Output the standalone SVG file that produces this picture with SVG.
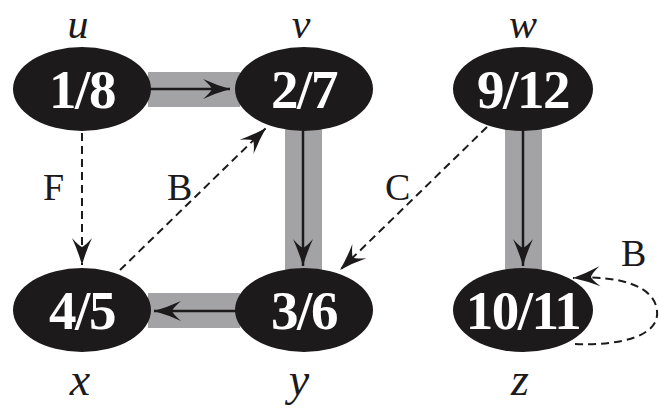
<svg xmlns="http://www.w3.org/2000/svg" width="659" height="412" viewBox="0 0 659 412">
<style>
.band{fill:#a3a3a5}
.node ellipse{fill:#1c1a1b}
.num{font-family:"Liberation Serif","Times New Roman",serif;font-weight:bold;font-size:55px;fill:#fff;text-anchor:middle;letter-spacing:-1.5px}
.name{font-family:"Liberation Serif","Times New Roman",serif;font-style:italic;font-size:46px;fill:#1c1a1b;text-anchor:middle}
.top{font-size:42px}
.lab{font-family:"Liberation Serif","Times New Roman",serif;font-size:38px;fill:#1c1a1b}
.tree{stroke:#1c1a1b;stroke-width:2.5;fill:none}
.dash{stroke:#1c1a1b;stroke-width:2;fill:none;stroke-dasharray:8 5}
</style>
<defs>
<marker id="ah" markerUnits="userSpaceOnUse" viewBox="-30 -12 32 24" refX="0" refY="0" markerWidth="32" markerHeight="24" orient="auto">
<path d="M0,0 Q-14,-4 -27,-10 Q-19,-3 -18,0 Q-19,3 -27,10 Q-14,4 0,0 Z" fill="#1c1a1b"/>
</marker>
</defs>
<g id="bands">
<rect class="band" x="148" y="72" width="92" height="35"/>
<rect class="band" x="285" y="126" width="37" height="146"/>
<rect class="band" x="505" y="126" width="37" height="146"/>
<rect class="band" x="148" y="293" width="92" height="35"/>
</g>
<g id="connectors">
<line class="tree" x1="150" y1="89" x2="230" y2="89" marker-end="url(#ah)"/>
<line class="tree" x1="303" y1="130" x2="303" y2="266" marker-end="url(#ah)"/>
<line class="tree" x1="523" y1="130" x2="523" y2="266" marker-end="url(#ah)"/>
<line class="tree" x1="238" y1="311" x2="154" y2="311" marker-end="url(#ah)"/>
<line class="dash" x1="82" y1="133" x2="82" y2="265" marker-end="url(#ah)"/>
<line class="dash" x1="120" y1="270" x2="266" y2="128" marker-end="url(#ah)"/>
<line class="dash" x1="487" y1="127" x2="340" y2="270" marker-end="url(#ah)"/>
<path class="dash" d="M575,344 C620,346 660,336 657,311 C655,287 622,275 573,278" marker-end="url(#ah)"/>
<text class="lab" x="43" y="200">F</text>
<text class="lab" x="167" y="200">B</text>
<text class="lab" x="385" y="200">C</text>
<text class="lab" x="621" y="266">B</text>
</g>
<g id="node-u" class="node">
<ellipse cx="82" cy="89" rx="69" ry="42"/>
<text class="num" x="82" y="108">1/8</text>
<text class="name top" x="78" y="38">u</text>
</g>
<g id="node-v" class="node">
<ellipse cx="304" cy="89" rx="69" ry="42"/>
<text class="num" x="304" y="108">2/7</text>
<text class="name top" x="301" y="38">v</text>
</g>
<g id="node-w" class="node">
<ellipse cx="523" cy="89" rx="70" ry="42"/>
<text class="num" x="523" y="108">9/12</text>
<text class="name top" x="523" y="38">w</text>
</g>
<g id="node-x" class="node">
<ellipse cx="82" cy="310" rx="69" ry="42"/>
<text class="num" x="82" y="329">4/5</text>
<text class="name" x="80" y="395">x</text>
</g>
<g id="node-y" class="node">
<ellipse cx="304" cy="310" rx="69" ry="42"/>
<text class="num" x="304" y="329">3/6</text>
<text class="name" x="299" y="395">y</text>
</g>
<g id="node-z" class="node">
<ellipse cx="523" cy="310" rx="70" ry="42"/>
<text class="num" x="523" y="329">10/11</text>
<text class="name" x="520" y="395">z</text>
</g>
</svg>
